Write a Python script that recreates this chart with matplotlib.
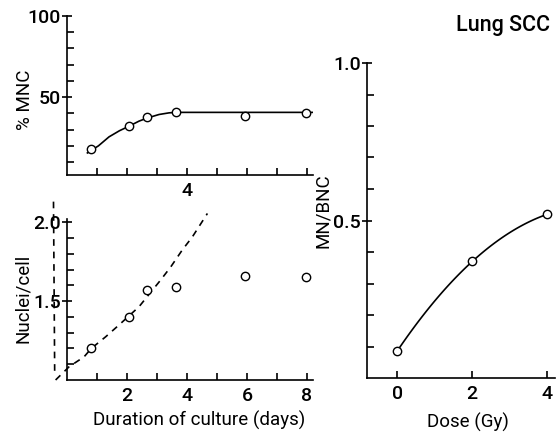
import numpy as np
import matplotlib
matplotlib.use("Agg")
from matplotlib import pyplot as plt
from matplotlib.ticker import FixedLocator, FixedFormatter

plt.rcParams['font.family'] = ['Roboto', 'DejaVu Sans']
plt.rcParams['font.weight'] = 'medium'

# culture duration (days) for both left panels
days = [0.81, 2.07, 2.68, 3.62, 5.93, 7.97]

# % MNC and its fitted curve
pct_mnc = [18.3, 32.1, 37.8, 40.9, 38.3, 40.1]
mnc_fit_x = [0.68, 1.05, 1.4, 1.75, 2.07, 2.4, 2.67, 3.07, 3.4, 3.62, 4.2, 8.2]
mnc_fit_y = [15.6, 20.0, 25.5, 29.3, 32.1, 35.2, 37.1, 39.3, 40.3, 40.6, 40.6, 40.6]

# nuclei per cell and the dashed growth curve
nuclei = [1.20, 1.40, 1.57, 1.59, 1.66, 1.65]
growth_x = [-0.38, 0.07, 0.57, 0.81, 1.29, 1.73, 2.03, 2.4, 3.12, 3.46, 3.84, 4.18, 4.68]
growth_y = [1.00, 1.084, 1.147, 1.20, 1.274, 1.348, 1.40, 1.464, 1.633, 1.717, 1.823, 1.907, 2.055]
asym_x = [-0.45, -0.41]
asym_y = [2.13, 1.03]

# dose response
dose = [0, 2, 4]
mn_bnc = [0.085, 0.37, 0.52]

TICK_FS = 14
LABEL_FS = 13.5
LW = 1.2
MARK = dict(marker='o', ms=6, mfc='white', mec='black', mew=1.0, ls='none', zorder=5)

fig = plt.figure(figsize=(5.59, 4.32), dpi=100)
W, H = 559, 432


def add_axes(x0, y0, x1, y1):
    return fig.add_axes([x0 / W, 1 - y1 / H, (x1 - x0) / W, (y1 - y0) / H])


def style(ax):
    for s in ('top', 'right'):
        ax.spines[s].set_visible(False)
    for s in ('left', 'bottom'):
        ax.spines[s].set_linewidth(LW)
    ax.tick_params(axis='y', which='major', direction='inout', length=7, width=LW, labelsize=TICK_FS, pad=1)
    ax.tick_params(axis='y', which='minor', direction='in', length=5, width=LW)
    ax.tick_params(axis='x', which='both', direction='in', length=5, width=LW, labelsize=TICK_FS, pad=5)


def place_ylabel(ax, text, x, y):
    ax.set_ylabel(text, fontsize=LABEL_FS, va='center', ha='center')
    ax.yaxis.set_label_coords(x, y)


def place_xlabel(ax, text, x, y):
    ax.set_xlabel(text, fontsize=LABEL_FS, va='center', ha='center')
    ax.xaxis.set_label_coords(x, y)


# top left: % MNC
ax1 = add_axes(67, 16, 313, 175)
style(ax1)
ax1.plot(mnc_fit_x, mnc_fit_y, color='black', lw=LW)
ax1.plot(days, pct_mnc, **MARK)
ax1.set_xlim(0, 8.2)
ax1.set_ylim(2, 100)
ax1.yaxis.set_major_locator(FixedLocator([50, 100]))
ax1.yaxis.set_minor_locator(FixedLocator(range(10, 100, 10)))
ax1.xaxis.set_major_locator(FixedLocator(range(1, 9)))
ax1.xaxis.set_major_formatter(FixedFormatter(['', '', '', '4', '', '', '', '']))
place_ylabel(ax1, '% MNC', -0.171, 0.47)

# bottom left: nuclei per cell
ax2 = add_axes(67, 219, 313, 380)
style(ax2)
ax2.plot(growth_x, growth_y, color='black', lw=LW, ls=(0, (4, 3.5)), clip_on=False)
ax2.plot(asym_x, asym_y, color='black', lw=LW, ls=(0, (4, 3.5)), clip_on=False)
ax2.plot(days, nuclei, **MARK)
ax2.set_xlim(0, 8.2)
ax2.set_ylim(1.0, 2.02)
ax2.yaxis.set_major_locator(FixedLocator([1.5, 2.0]))
ax2.yaxis.set_major_formatter(FixedFormatter(['1.5', '2.0']))
ax2.yaxis.set_minor_locator(FixedLocator(np.arange(1.1, 2.0, 0.1)))
ax2.xaxis.set_major_locator(FixedLocator([2, 4, 6, 8]))
ax2.xaxis.set_minor_locator(FixedLocator([1, 3, 5, 7]))
place_xlabel(ax2, 'Duration of culture (days)', 0.537, -0.248)
place_ylabel(ax2, 'Nuclei/cell', -0.179, 0.51)

# right: dose response
ax3 = add_axes(367, 63, 555, 378)
style(ax3)
coef = np.polyfit(dose, mn_bnc, 2)
xs = np.linspace(dose[0], dose[-1], 100)
ax3.plot(xs, np.polyval(coef, xs), color='black', lw=LW)
ax3.plot(dose, mn_bnc, **MARK)
ax3.set_xlim(-0.8, 4.2)
ax3.set_ylim(0, 1.0)
ax3.yaxis.set_major_locator(FixedLocator([0.5, 1.0]))
ax3.yaxis.set_major_formatter(FixedFormatter(['0.5', '1.0']))
ax3.yaxis.set_minor_locator(FixedLocator(np.arange(0.1, 1.0, 0.1)))
ax3.xaxis.set_major_locator(FixedLocator(dose))
place_xlabel(ax3, 'Dose (Gy)', 0.537, -0.14)
place_ylabel(ax3, 'MN/BNC', -0.235, 0.53)

fig.text(550 / W, 1 - 25 / H, 'Lung SCC', fontsize=15.5, ha='right', va='center')

fig.savefig('out.png', dpi=100)
